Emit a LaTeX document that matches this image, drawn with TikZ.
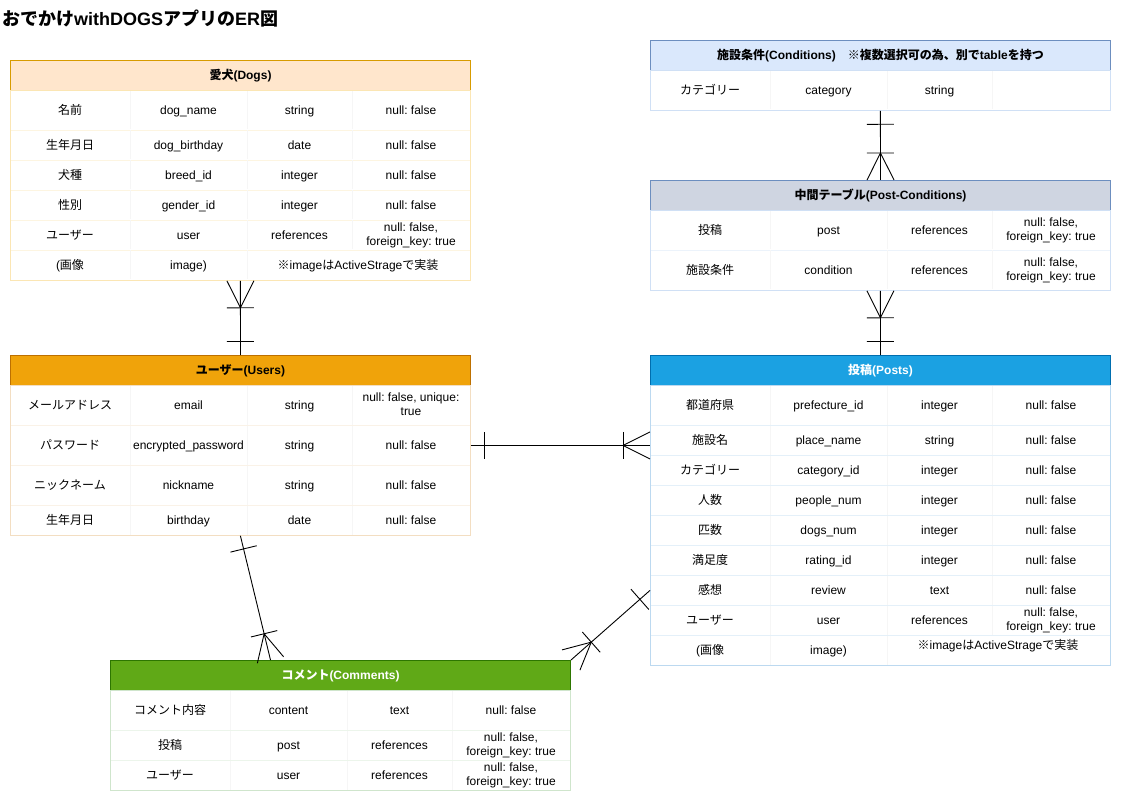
\documentclass[tikz,border=0pt]{standalone}
\usepackage{fontspec}
\setmainfont{Liberation Sans}
\newfontfamily\cjk{Noto Sans CJK JP}
\usetikzlibrary{calc}
\newcommand\J[1]{{\cjk #1}}
\frenchspacing
\definecolor{dogsfill}{HTML}{FFE6CC}
\definecolor{dogsline}{HTML}{D79B00}
\definecolor{dogsbody}{HTML}{FBE6B4}
\definecolor{condfill}{HTML}{DAE8FC}
\definecolor{condline}{HTML}{6C8EBF}
\definecolor{condbody}{HTML}{D0E0F5}
\definecolor{pcfill}{HTML}{CFD5E1}
\definecolor{userfill}{HTML}{F0A30A}
\definecolor{userline}{HTML}{BD7000}
\definecolor{userbody}{HTML}{F3DEC2}
\definecolor{postfill}{HTML}{1BA1E2}
\definecolor{postline}{HTML}{006EAF}
\definecolor{postbody}{HTML}{BCD9F0}
\definecolor{comfill}{HTML}{60A917}
\definecolor{comline}{HTML}{2D7600}
\definecolor{combody}{HTML}{CFE5CC}
\definecolor{sepcol}{HTML}{F6F6F6}
\tikzset{
  conn/.style={line width=0.9pt, black},
  hdr/.style={line width=1pt, minimum width=460pt, minimum height=30pt,
    anchor=north west, inner sep=0pt, font=\bfseries\fontsize{12}{14}\selectfont},
  rowbox/.style={line width=0.8pt, fill=white, minimum width=460pt,
    anchor=north west, inner sep=0pt},
  cell/.style={font=\fontsize{12}{14}\selectfont, align=center, inner sep=0pt, text=black,
    yshift=-1.5pt, execute at begin node=\strut, execute at end node=\strut},
  colsep/.style={line width=0.6pt, sepcol},
  frame/.style={line width=0.9pt},
}
% row: name, x, ytop, height, color, c1, c2, c3, c4
\newcommand\erow[9]{%
  \node[rowbox, draw=#5!40, minimum height=#4pt] (#1) at (#2,#3) {};
  \draw[colsep] ({#2+120},{#3+0.5}) -- ++(0,{#4-1});
  \draw[colsep] ({#2+237},{#3+0.5}) -- ++(0,{#4-1});
  \draw[colsep] ({#2+342},{#3+0.5}) -- ++(0,{#4-1});
  \node[cell] (#1-1) at ({#2+60},{#3+#4/2}) {#6};
  \node[cell] (#1-2) at ({#2+178.5},{#3+#4/2}) {#7};
  \node[cell] (#1-3) at ({#2+289.5},{#3+#4/2}) {#8};
  \node[cell] (#1-4) at ({#2+401},{#3+#4/2}) {#9};
}
% image row: name, x, ytop, color, text dy
\newcommand\imgrow[5]{%
  \node[rowbox, draw=#4!40, minimum height=30pt] (#1) at (#2,#3) {};
  \draw[colsep] ({#2+120},{#3+0.5}) -- ++(0,29);
  \draw[colsep] ({#2+237},{#3+0.5}) -- ++(0,29);
  \node[cell] (#1-1) at ({#2+60},{#3+15}) {(\J{画像}};
  \node[cell] (#1-2) at ({#2+178.5},{#3+15}) {image)};
  \node[cell] (#1-3) at ({#2+348},{#3+15+#5}) {\J{※}image\J{は}ActiveStrage\J{で実装}};
}
% body frame: first row, last row, color
\newcommand\bodyframe[3]{\draw[frame, #3] (#1.north west) rectangle (#2.south east);}
% link: one side, many side
\newcommand\erlink[2]{%
  \draw[conn] (#1) -- (#2);
  \coordinate (erD) at ($(#1)!13.5pt!(#2)$);
  \draw[conn] ($(erD)!13.5pt!90:(#1)$) -- ($(erD)!13.5pt!-90:(#1)$);
  \coordinate (erC) at ($(#2)!27pt!(#1)$);
  \draw[conn] ($(erC)!13.5pt!90:(#2)$) -- ($(erC)!13.5pt!-90:(#2)$);
  \draw[conn] ($(#2)!13.5pt!90:(#1)$) -- (erC) -- ($(#2)!13.5pt!-90:(#1)$);
}
\def\FK{null: false,\\foreign\_key: true}
\begin{document}
\begin{tikzpicture}[x=1pt,y=-1pt]
\useasboundingbox[fill=white] (0,0) rectangle (1140,791);
\node[anchor=west, inner sep=0pt, font=\bfseries\fontsize{18}{20}\selectfont] (title) at (2,19)
  {\J{おでかけ}withDOGS\J{アプリの}ER\J{図}};

% Dogs
\node[hdr, fill=dogsfill, draw=dogsline] (dogs) at (10,60) {\J{愛犬}(Dogs)};
\erow{dogs-r1}{10}{90}{40}{dogsbody}{\J{名前}}{dog\_name}{string}{null: false}
\erow{dogs-r2}{10}{130}{30}{dogsbody}{\J{生年月日}}{dog\_birthday}{date}{null: false}
\erow{dogs-r3}{10}{160}{30}{dogsbody}{\J{犬種}}{breed\_id}{integer}{null: false}
\erow{dogs-r4}{10}{190}{30}{dogsbody}{\J{性別}}{gender\_id}{integer}{null: false}
\erow{dogs-r5}{10}{220}{30}{dogsbody}{\J{ユーザー}}{user}{references}{\FK}
\imgrow{dogs-r6}{10}{250}{dogsbody}{0}
\bodyframe{dogs-r1}{dogs-r6}{dogsbody}

% Conditions
\node[hdr, fill=condfill, draw=condline] (cond) at (650,40) {\J{施設条件}(Conditions)\J{　※複数選択可の為、別で}table\J{を持つ}};
\erow{cond-r1}{650}{70}{40}{condbody}{\J{カテゴリー}}{category}{string}{}
\bodyframe{cond-r1}{cond-r1}{condbody}

% Post-Conditions
\node[hdr, fill=pcfill, draw=condline] (pc) at (650,180) {\J{中間テーブル}(Post-Conditions)};
\erow{pc-r1}{650}{210}{40}{condbody}{\J{投稿}}{post}{references}{\FK}
\erow{pc-r2}{650}{250}{40}{condbody}{\J{施設条件}}{condition}{references}{\FK}
\bodyframe{pc-r1}{pc-r2}{condbody}

% Users
\node[hdr, fill=userfill, draw=userline] (users) at (10,355) {\J{ユーザー}(Users)};
\erow{users-r1}{10}{385}{40}{userbody}{\J{メールアドレス}}{email}{string}{null: false, unique:\\true}
\erow{users-r2}{10}{425}{40}{userbody}{\J{パスワード}}{encrypted\_password}{string}{null: false}
\erow{users-r3}{10}{465}{40}{userbody}{\J{ニックネーム}}{nickname}{string}{null: false}
\erow{users-r4}{10}{505}{30}{userbody}{\J{生年月日}}{birthday}{date}{null: false}
\bodyframe{users-r1}{users-r4}{userbody}

% Posts
\node[hdr, fill=postfill, draw=postline, text=white] (posts) at (650,355) {\J{投稿}(Posts)};
\erow{posts-r1}{650}{385}{40}{postbody}{\J{都道府県}}{prefecture\_id}{integer}{null: false}
\erow{posts-r2}{650}{425}{30}{postbody}{\J{施設名}}{place\_name}{string}{null: false}
\erow{posts-r3}{650}{455}{30}{postbody}{\J{カテゴリー}}{category\_id}{integer}{null: false}
\erow{posts-r4}{650}{485}{30}{postbody}{\J{人数}}{people\_num}{integer}{null: false}
\erow{posts-r5}{650}{515}{30}{postbody}{\J{匹数}}{dogs\_num}{integer}{null: false}
\erow{posts-r6}{650}{545}{30}{postbody}{\J{満足度}}{rating\_id}{integer}{null: false}
\erow{posts-r7}{650}{575}{30}{postbody}{\J{感想}}{review}{text}{null: false}
\erow{posts-r8}{650}{605}{30}{postbody}{\J{ユーザー}}{user}{references}{\FK}
\imgrow{posts-r9}{650}{635}{postbody}{-5}
\bodyframe{posts-r1}{posts-r9}{postbody}

% Comments
\node[hdr, fill=comfill, draw=comline, text=white] (com) at (110,660) {\J{コメント}(Comments)};
\erow{com-r1}{110}{690}{40}{combody}{\J{コメント内容}}{content}{text}{null: false}
\erow{com-r2}{110}{730}{30}{combody}{\J{投稿}}{post}{references}{\FK}
\erow{com-r3}{110}{760}{30}{combody}{\J{ユーザー}}{user}{references}{\FK}
\bodyframe{com-r1}{com-r3}{combody}

% connectors
\coordinate (usersPostEnd) at (users-r2.east -| posts.west);
\coordinate (comUserEnd) at (270.5,660);
\erlink{cond-r1.south}{pc.north}
\erlink{posts.north}{pc-r2.south}
\erlink{users.north}{dogs-r6.south}
\erlink{users-r2.east}{usersPostEnd}
\erlink{users-r4.south}{comUserEnd}
\erlink{posts-r7.west}{com.north east}
\end{tikzpicture}
\end{document}
